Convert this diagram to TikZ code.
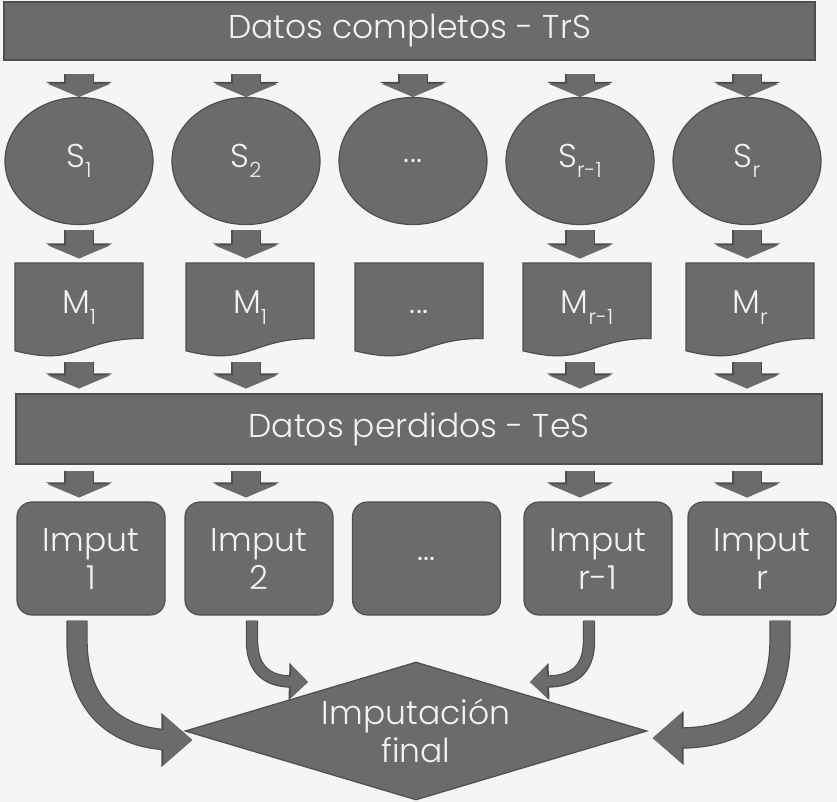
\documentclass[tikz,border=0pt]{standalone}
\usepackage{fontspec}
\setmainfont{Poppins}[UprightFont=* Light]
\usetikzlibrary{shapes.geometric, arrows.meta}
\definecolor{boxfill}{HTML}{6B6B6B}
\definecolor{boxline}{HTML}{4E4E4E}
\definecolor{paper}{HTML}{F5F5F5}
\definecolor{ink}{HTML}{F2F2F2}
\newcommand{\lowidx}[1]{\raisebox{-.32em}{\fontsize{21}{21}\selectfont #1}}
% document shape, the node sits on the path so it is drawn above the fill
\newcommand{\docnode}[3]{\filldraw[shapefill] (#2-64,263) -- (#2+64,263) -- (#2+64,338.4)
  .. controls (#2,338.4) and (#2,367) .. (#2-64,350.8) -- cycle
  (#2,310) node[mbox] (#1) {#3};}

\tikzset{
  shapefill/.style={fill=boxfill, draw=boxline, line width=1.2pt},
  txt/.style={text=ink, font=\fontsize{33}{38}\selectfont, align=center, inner sep=0pt},
  bar/.style={shapefill, txt, rectangle, minimum height=58pt},
  sbox/.style={shapefill, txt, ellipse, minimum width=148pt, minimum height=127pt},
  mbox/.style={txt, rectangle, minimum width=128pt, minimum height=94pt, text height=30pt, text depth=23pt},
  ibox/.style={shapefill, txt, rectangle, rounded corners=15pt, minimum width=148pt, minimum height=113pt},
  fin/.style={shapefill, txt, diamond, aspect=3.35, minimum width=462pt, minimum height=138pt},
  downarr/.style={draw=boxfill, line width=27pt, -{Triangle[width=62pt,length=13pt]},
    preaction={draw=boxline, line width=29.4pt, -{Triangle[width=66pt,length=15pt]}}},
  bigcurve/.style={draw=boxfill, line width=19pt, -{Triangle[width=48pt,length=29pt]},
    preaction={draw=boxline, line width=21.4pt, -{Triangle[width=52pt,length=31pt]}}},
  smallcurve/.style={draw=boxfill, line width=10pt, -{Triangle[width=32pt,length=17pt]},
    preaction={draw=boxline, line width=12.4pt, -{Triangle[width=36pt,length=19pt]}}}
}

\begin{document}
\begin{tikzpicture}[x=1pt, y=-1pt]
    \useasboundingbox (0,0) rectangle (837,802);
    \fill[paper] (0,0) rectangle (837,802);

    \node[bar, minimum width=811pt] (trs) at (409.5,31) {Datos completos - TrS};

    \node[sbox] (s1) at (79,161) {S\lowidx{1}};
    \node[sbox] (s2) at (246,161) {S\lowidx{2}};
    \node[sbox] (s3) at (413,161) {...};
    \node[sbox] (s4) at (580,161) {S\lowidx{r-1}};
    \node[sbox] (s5) at (747,161) {S\lowidx{r}};

    \docnode{m1}{79}{M\lowidx{1}}
    \docnode{m2}{250}{M\lowidx{1}}
    \docnode{m3}{419}{...}
    \docnode{m4}{587}{M\lowidx{r-1}}
    \docnode{m5}{750}{M\lowidx{r}}

    \node[bar, minimum width=806pt, minimum height=70pt] (tes) at (419,429) {Datos perdidos - TeS};

    \node[ibox] (i1) at (91,558.5) {Imput\\1};
    \node[ibox] (i2) at (259,558.5) {Imput\\2};
    \node[ibox] (i3) at (426.5,558.5) {...};
    \node[ibox] (i4) at (598,558.5) {Imput\\r-1};
    \node[ibox] (i5) at (762,558.5) {Imput\\r};

    \node[fin] (final) at (416,731) {Imputación\\final};

    % bar -> S
    \draw[downarr, shorten <=13pt] (s1 |- trs.south) -- (s1.north);
    \draw[downarr, shorten <=13pt] (s2 |- trs.south) -- (s2.north);
    \draw[downarr, shorten <=13pt] (s3 |- trs.south) -- (s3.north);
    \draw[downarr, shorten <=13pt] (s4 |- trs.south) -- (s4.north);
    \draw[downarr, shorten <=13pt] (s5 |- trs.south) -- (s5.north);
    % S -> M
    \draw[downarr, shorten <=5pt, shorten >=4pt] (s1.south) -- (s1 |- m1.north);
    \draw[downarr, shorten <=5pt, shorten >=4pt] (s2.south) -- (s2 |- m2.north);
    \draw[downarr, shorten <=5pt, shorten >=4pt] (s4.south) -- (s4 |- m4.north);
    \draw[downarr, shorten <=5pt, shorten >=4pt] (s5.south) -- (s5 |- m5.north);
    % M -> TeS
    \draw[downarr, shorten <=4pt, shorten >=5pt] (s1 |- m1.south) -- (s1 |- tes.north);
    \draw[downarr, shorten <=4pt, shorten >=5pt] (s2 |- m2.south) -- (s2 |- tes.north);
    \draw[downarr, shorten <=4pt, shorten >=5pt] (s4 |- m4.south) -- (s4 |- tes.north);
    \draw[downarr, shorten <=4pt, shorten >=5pt] (s5 |- m5.south) -- (s5 |- tes.north);
    % TeS -> Imput
    \draw[downarr, shorten <=6pt, shorten >=4pt] (s1 |- tes.south) -- (s1 |- i1.north);
    \draw[downarr, shorten <=6pt, shorten >=4pt] (s2 |- tes.south) -- (s2 |- i2.north);
    \draw[downarr, shorten <=6pt, shorten >=4pt] (s4 |- tes.south) -- (s4 |- i4.north);
    \draw[downarr, shorten <=6pt, shorten >=4pt] (s5 |- tes.south) -- (s5 |- i5.north);

    % Imput -> final
    \draw[bigcurve] ([shift={(-14,5)}]i1.south) -- ++(0,20) .. controls (77,705) and (115,740) .. (175,740) -- ([shift={(8,9)}]final.west);
    \draw[smallcurve] ([shift={(-7,5)}]i2.south) -- ++(0,20) .. controls (252,672) and (270,681) .. ([shift={(-108,-49)}]final.center);
    \draw[smallcurve] ([shift={(-9,5)}]i4.south) -- ++(0,20) .. controls (589,672) and (571,681) .. ([shift={(114,-49)}]final.center);
    \draw[bigcurve] ([shift={(18,5)}]i5.south) -- ++(0,20) .. controls (780,705) and (745,738) .. (680,738) -- ([shift={(5,7)}]final.east);
\end{tikzpicture}
\end{document}
